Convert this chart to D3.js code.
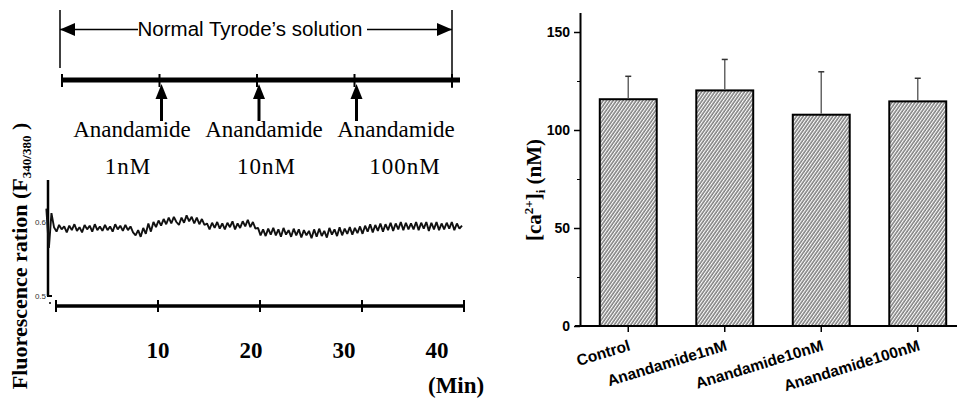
<!DOCTYPE html>
<html>
<head>
<meta charset="utf-8">
<script src="https://cdn.jsdelivr.net/npm/d3@7"></script>
<style>
  body { margin: 0; background: #fff; }
  svg { display: block; }
  .serif { font-family: "Liberation Serif", "Times New Roman", serif; }
  .sans { font-family: "Liberation Sans", Arial, sans-serif; }
</style>
</head>
<body>
<svg></svg>
<script>
// ---- data ----
var timeTicks = [10, 20, 30, 40];          // minutes
var doseTimes = [10, 20, 30];              // when anandamide was added
var doseLabels = ["1nM", "10nM", "100nM"];
var traceStart = -0.75, traceStep = 0.25;  // minutes
var trace = [
  0.618, 0.565, 0.612,
  0.593, 0.587, 0.596, 0.590, 0.594, 0.586, 0.595, 0.589, 0.597, 0.588, 0.593, 0.586, 0.596, 0.590, 0.595, 0.587, 0.597, 0.589, 0.594, 0.588,
  0.596, 0.589, 0.594, 0.587, 0.597, 0.590, 0.595, 0.588, 0.596, 0.589, 0.594, 0.586, 0.582, 0.589, 0.580, 0.592, 0.584, 0.598, 0.587, 0.600,
  0.593, 0.602, 0.595, 0.604, 0.597, 0.606, 0.598, 0.607, 0.600, 0.596, 0.606, 0.599, 0.609, 0.601, 0.607, 0.598, 0.606, 0.597, 0.604, 0.596,
  0.598, 0.590, 0.599, 0.592, 0.600, 0.591, 0.598, 0.590, 0.599, 0.593, 0.601, 0.590, 0.598, 0.592, 0.601, 0.594, 0.603, 0.593, 0.600, 0.591,
  0.592, 0.582, 0.590, 0.581, 0.591, 0.583, 0.592, 0.582, 0.590, 0.580, 0.592, 0.583, 0.589, 0.580, 0.591, 0.582, 0.590, 0.579, 0.589, 0.582,
  0.588, 0.578, 0.590, 0.580, 0.591, 0.581, 0.588, 0.579, 0.592, 0.583, 0.590, 0.581, 0.593, 0.582, 0.591, 0.584, 0.593, 0.583, 0.592, 0.585,
  0.594, 0.584, 0.595, 0.587, 0.597, 0.586, 0.596, 0.588, 0.598, 0.587, 0.597, 0.589, 0.599, 0.588, 0.598, 0.590, 0.600, 0.589, 0.599, 0.590,
  0.598, 0.590, 0.600, 0.589, 0.599, 0.591, 0.600, 0.588, 0.599, 0.590, 0.600, 0.589, 0.598, 0.590, 0.599, 0.591, 0.600, 0.589, 0.598, 0.591,
  0.595
];
var traceTicks = [0.5, 0.6];

var groups = ["Control", "Anandamide1nM", "Anandamide10nM", "Anandamide100nM"];
var means = [115.7, 120.2, 107.8, 114.6];   // nM
var errs = [11.7, 15.8, 21.9, 11.8];
var barTicks = [0, 50, 100, 150];
var barMinor = [25, 75, 125];

var width = 957, height = 402;
var svg = d3.select("svg").attr("width", width).attr("height", height);

var defs = svg.append("defs");
defs.append("pattern")
    .attr("id", "hatch")
    .attr("patternUnits", "userSpaceOnUse")
    .attr("width", 2.7).attr("height", 10)
    .attr("patternTransform", "rotate(35)")
  .append("line")
    .attr("x1", 1).attr("x2", 1).attr("y1", 0).attr("y2", 10)
    .attr("stroke", "#5a5a5a").attr("stroke-width", 1.2);

// ================= left panel =================
var xTop = d3.scaleLinear().domain([0, 40]).range([62, 452]);
var xTime = d3.scaleLinear().domain([0, 40]).range([56, 464]);
var xLabel = d3.scaleLinear().domain([0, 40]).range([65, 437]);
var yTrace = d3.scaleLinear().domain([0.5, 0.6]).range([296, 222]);
var doseX = d3.scalePoint().domain(doseLabels).range([132, 396]);
var doseSub = d3.scalePoint().domain(doseLabels).range([128, 405]);

var left = svg.append("g");

// bracket "Normal Tyrode's solution"
var br = left.append("g").attr("stroke", "#000").attr("stroke-width", 1.5);
br.append("line").attr("x1", xTop(0) - 2).attr("x2", xTop(0) - 2).attr("y1", 10).attr("y2", 68);
br.append("line").attr("x1", xTop(40)).attr("x2", xTop(40)).attr("y1", 10).attr("y2", 88);
br.append("line").attr("x1", xTop(0) - 2).attr("x2", 138).attr("y1", 29.5).attr("y2", 29.5);
br.append("line").attr("x1", 367).attr("x2", xTop(40)).attr("y1", 29.5).attr("y2", 29.5);
left.append("path")
    .attr("d", d3.line()([[xTop(0) - 2, 29.5], [xTop(0) + 13, 23], [xTop(0) + 13, 36]]) + "Z");
left.append("path")
    .attr("d", d3.line()([[xTop(40), 29.5], [xTop(40) - 15, 23], [xTop(40) - 15, 36]]) + "Z");
left.append("text").attr("class", "sans")
    .attr("x", 250).attr("y", 36)
    .attr("text-anchor", "middle")
    .attr("font-size", 20.5)
    .text("Normal Tyrode\u2019s solution");

// top timeline
left.append("line")
    .attr("x1", xTop(0)).attr("x2", xTop(40) + 8)
    .attr("y1", 80).attr("y2", 80)
    .attr("stroke", "#000").attr("stroke-width", 5);
left.selectAll(".ttick")
    .data([0].concat(timeTicks))
    .enter().append("line")
    .attr("x1", d => xTop(d)).attr("x2", d => xTop(d))
    .attr("y1", 74).attr("y2", 87)
    .attr("stroke", "#000").attr("stroke-width", 2);

// dose arrows
var arrows = left.selectAll(".arrow").data(doseTimes).enter().append("g");
arrows.append("line")
    .attr("x1", d => xTop(d) + 2).attr("x2", d => xTop(d) + 2)
    .attr("y1", 121).attr("y2", 96)
    .attr("stroke", "#000").attr("stroke-width", 3);
arrows.append("path")
    .attr("d", d => d3.line()([[xTop(d) + 2, 84], [xTop(d) - 4, 99], [xTop(d) + 8, 99]]) + "Z");

left.selectAll(".dname").data(doseLabels).enter().append("text")
    .attr("class", "serif")
    .attr("x", d => doseX(d)).attr("y", 137)
    .attr("text-anchor", "middle").attr("font-size", 23)
    .text("Anandamide");
left.selectAll(".dconc").data(doseLabels).enter().append("text")
    .attr("class", "serif")
    .attr("x", d => doseSub(d)).attr("y", 174)
    .attr("text-anchor", "middle").attr("font-size", 23)
    .attr("letter-spacing", 1)
    .text(d => d);

// trace axis
left.append("line")
    .attr("x1", 48).attr("x2", 48)
    .attr("y1", 180).attr("y2", yTrace(0.5))
    .attr("stroke", "#000").attr("stroke-width", 2.5);
left.append("line")
    .attr("x1", 47).attr("x2", 52)
    .attr("y1", yTrace(0.5)).attr("y2", yTrace(0.5))
    .attr("stroke", "#000").attr("stroke-width", 2);
left.selectAll(".tl").data(traceTicks).enter().append("text")
    .attr("class", "sans")
    .attr("x", 46).attr("y", d => yTrace(d) + 3)
    .attr("text-anchor", "end").attr("font-size", 8)
    .attr("fill", "#333")
    .text(d => d.toFixed(1));

// trace
var traceLine = d3.line()
    .x((d, i) => xTime(traceStart + i * traceStep) - 2)
    .y(d => yTrace(d));
left.append("path")
    .datum(trace)
    .attr("d", traceLine)
    .attr("fill", "none")
    .attr("stroke", "#111")
    .attr("stroke-width", 1.9)
    .attr("stroke-linejoin", "bevel");

// bottom time axis
left.append("line")
    .attr("x1", xTime(0) - 1).attr("x2", xTime(40) + 1)
    .attr("y1", 306).attr("y2", 306)
    .attr("stroke", "#000").attr("stroke-width", 3.5);
left.selectAll(".btick").data([0].concat(timeTicks)).enter().append("line")
    .attr("x1", d => xTime(d)).attr("x2", d => xTime(d))
    .attr("y1", 300).attr("y2", 312)
    .attr("stroke", "#000").attr("stroke-width", 2);
left.append("circle").attr("cx", 50).attr("cy", 303).attr("r", 1);
left.selectAll(".blab").data(timeTicks).enter().append("text")
    .attr("class", "serif")
    .attr("x", d => xLabel(d)).attr("y", 358)
    .attr("text-anchor", "middle")
    .attr("font-size", 23).attr("font-weight", "bold")
    .text(d => d);
left.append("text").attr("class", "serif")
    .attr("x", 428).attr("y", 393)
    .attr("font-size", 23).attr("font-weight", "bold")
    .text("(Min)");

// y label
var yl = left.append("text").attr("class", "serif")
    .attr("transform", "translate(27,256) rotate(-90)")
    .attr("text-anchor", "middle")
    .attr("font-size", 22).attr("font-weight", "bold");
yl.append("tspan").text("Fluorescence ration (F");
yl.append("tspan").attr("font-size", 13).attr("dy", 4).text("340/380");
yl.append("tspan").attr("dy", -4).text(" )");

// ================= right panel =================
var x = d3.scaleBand().domain(groups).range([580, 966]).paddingInner(0.41).paddingOuter(0.205);
var y = d3.scaleLinear().domain([0, 160]).range([326, 12.4]);

var right = svg.append("g");

right.selectAll(".bar").data(groups).enter().append("rect")
    .attr("x", d => x(d))
    .attr("y", (d, i) => y(means[i]))
    .attr("width", x.bandwidth())
    .attr("height", (d, i) => y(0) - y(means[i]))
    .attr("fill", "url(#hatch)")
    .attr("stroke", "#000").attr("stroke-width", 2);

var eb = right.selectAll(".err").data(groups).enter().append("g")
    .attr("stroke", "#666");
eb.append("line")
    .attr("x1", d => x(d) + x.bandwidth() / 2).attr("x2", d => x(d) + x.bandwidth() / 2)
    .attr("y1", (d, i) => y(means[i]) - 1).attr("y2", (d, i) => y(means[i] + errs[i]))
    .attr("stroke-width", 1.5);
eb.append("line")
    .attr("x1", d => x(d) + x.bandwidth() / 2 - 3).attr("x2", d => x(d) + x.bandwidth() / 2 + 3)
    .attr("y1", (d, i) => y(means[i] + errs[i])).attr("y2", (d, i) => y(means[i] + errs[i]))
    .attr("stroke", "#333").attr("stroke-width", 1.5);

// y axis
var yAxis = right.append("g")
    .attr("transform", "translate(580,0)")
    .call(d3.axisLeft(y).tickValues(barTicks).tickSize(6).tickSizeOuter(0).tickPadding(4));
yAxis.select(".domain").attr("stroke-width", 2);
yAxis.selectAll(".tick line").attr("stroke-width", 1.5);
yAxis.selectAll(".tick text")
    .attr("font-size", 14).attr("font-weight", "bold")
    .attr("font-family", "Liberation Sans, Arial, sans-serif");
right.append("g")
    .attr("transform", "translate(580,0)")
    .call(d3.axisLeft(y).tickValues(barMinor).tickSize(3).tickFormat(""))
    .call(g => g.select(".domain").remove());

// x axis
right.append("line")
    .attr("x1", 575).attr("x2", 957)
    .attr("y1", y(0)).attr("y2", y(0))
    .attr("stroke", "#000").attr("stroke-width", 2);
var xAxis = right.append("g")
    .attr("transform", "translate(0," + y(0) + ")")
    .call(d3.axisBottom(x).tickSize(6).tickSizeOuter(0));
xAxis.select(".domain").remove();
xAxis.selectAll(".tick line").attr("stroke-width", 1.5);
xAxis.selectAll(".tick text")
    .attr("font-family", "Liberation Sans, Arial, sans-serif")
    .attr("font-size", 15.5).attr("font-weight", "bold")
    .attr("text-anchor", "end")
    .attr("dy", null).attr("y", 0)
    .attr("transform", "translate(3,24) rotate(-17)");

// y label
var yl2 = right.append("text").attr("class", "serif")
    .attr("transform", "translate(541,190) rotate(-90)")
    .attr("text-anchor", "middle")
    .attr("font-size", 21).attr("font-weight", "bold");
yl2.append("tspan").text("[ca");
yl2.append("tspan").attr("font-size", 13).attr("dy", -8).text("2+");
yl2.append("tspan").attr("dy", 8).text("]");
yl2.append("tspan").attr("font-size", 13).attr("dy", 4).text("i");
yl2.append("tspan").attr("dy", -4).text(" (nM)");
</script>
</body>
</html>
